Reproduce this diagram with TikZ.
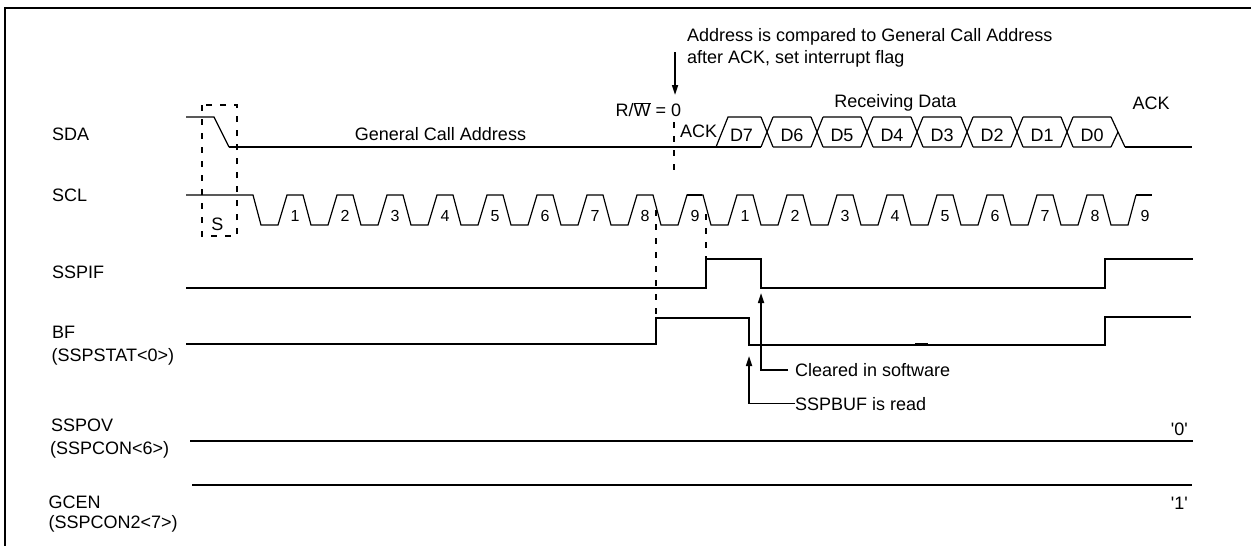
\documentclass[tikz,border=0pt]{standalone}
\usepackage{fontspec}
\setmainfont{Liberation Sans}
\usetikzlibrary{arrows.meta}
\newcommand\fsz{\fontsize{18}{21}\selectfont}
\newcommand\fsd{\fontsize{16}{19}\selectfont}
\begin{document}
\begin{tikzpicture}[x=1pt,y=-1pt,
  sig/.style={line width=2pt},
  fine/.style={line width=1.2pt},
  dsh/.style={line width=2pt,dash pattern=on 6pt off 8pt},
  lbl/.style={inner sep=0pt,font=\fsz},
  dig/.style={inner sep=0pt,font=\fsd,anchor=base},
  arr/.style={-{Triangle[length=10pt,width=6pt]},line width=1.6pt},
  frm/.style={line width=2.2pt}]
\useasboundingbox (0,0) rectangle (1251,546);

% frame
\draw[frm] (5,546) -- (5,8) -- (1251,8);

% signal names
\node[lbl,anchor=base west] (nSDA) at (52,140) {SDA};
\node[lbl,anchor=base west] (nSCL) at (52,201.5) {SCL};
\node[lbl,anchor=base west] (nSSPIF) at (52,278.3) {SSPIF};
\node[lbl,anchor=base west] (nBF) at (52,338.5) {BF};
\node[lbl,anchor=base west] (nBF2) at (51.5,361) {(SSPSTAT<0>)};
\node[lbl,anchor=base west] (nOV) at (51,431) {SSPOV};
\node[lbl,anchor=base west] (nOV2) at (50,454) {(SSPCON<6>)};
\node[lbl,anchor=base west] (nGC) at (48.5,508.3) {GCEN};
\node[lbl,anchor=base west] (nGC2) at (48.5,528) {(SSPCON2<7>)};

% SDA
\draw[fine] (186,117) -- (214,117) -- (229,147);
\draw[sig] (229,147) -- (716,147);
\draw[fine] (716,147) -- (728,117) -- (761,117);
\draw[fine] (716,147) -- (761,147);
\foreach \c in {767,817,...,1067} {
  \draw[fine] (\c-6,117) -- (\c+6,147) (\c-6,147) -- (\c+6,117)
              (\c+6,117) -- (\c+44,117) (\c+6,147) -- (\c+44,147);
}
\draw[fine] (1111,117) -- (1125,147) (1111,147) -- (1118,132);
\draw[sig] (1125,147) -- (1192,147);
\foreach \n/\x in {D7/741.5,D6/792,D5/842,D4/892,D3/942,D2/992,D1/1042,D0/1092}
  \node[lbl,anchor=base] (lab\n) at (\x,141.5) {\n};

\node[lbl,anchor=base] (gca) at (440.5,140) {General Call Address};
\node[lbl,anchor=base] (rw) at (648.5,116.5) {R/$\overline{\hbox{W}}$ = 0};
\node[lbl,anchor=base west] (ack1) at (680,137.5) {ACK};
\node[lbl,anchor=base] (rd) at (895.5,107.3) {Receiving Data};
\node[lbl,anchor=base] (ack2) at (1151,109) {ACK};

% annotation on top
\node[lbl,anchor=base west] (ann1) at (687,41) {Address is compared to General Call Address};
\node[lbl,anchor=base west] (ann2) at (687,63) {after ACK, set interrupt flag};
\coordinate (annTop) at (675,52);
\coordinate (rwTip) at (675,95);
\draw[arr] (annTop) -- (rwTip);

% SCL
\draw[fine] (186,195) -- (253,195) -- (261,225) -- (278,225)
  \foreach \i in {0,...,16} { -- ({278+50*\i},225) -- ({287+50*\i},195) -- ({303+50*\i},195) -- ({311+50*\i},225) -- ({328+50*\i},225) }
  -- (1128,225) -- (1136,195);
\draw[sig] (1136,195) -- (1152,195);
\draw[sig] (687,195) -- (702,195);
\foreach \d [count=\i from 0] in {1,2,3,4,5,6,7,8,9,1,2,3,4,5,6,7,8,9}
  \node[dig] (scl\i) at ({295+50*\i},221) {\d};

% start condition box
\draw[dsh] (202,105) rectangle (237,236);
\node[lbl,anchor=base] (s) at (217.5,230) {S};

% dashed markers
\draw[dsh] (674,122) -- (674,176);
\draw[dsh] (656,210) -- (656,344);
\draw[dsh] (706,214) -- (706,258);

% SSPIF
\draw[sig] (186,288) -- (706,288) -- (706,258.5) -- (761,258.5) -- (761,288) -- (1105,288) -- (1105,259) -- (1193,259);
% BF
\draw[sig] (186,344) -- (656,344) -- (656,318) -- (749,318) -- (749,345) -- (1105,345) -- (1105,317) -- (1191,317);
\draw[line width=2.6pt] (915,343.8) -- (928,343.8);
% SSPOV, GCEN
\draw[sig] (190,441) -- (1193,441);
\draw[sig] (192,485) -- (1192,485);
\node[lbl,anchor=base east] (z0) at (1188,435) {\textquotesingle 0\textquotesingle};
\node[lbl,anchor=base east] (z1) at (1188,509) {\textquotesingle 1\textquotesingle};

% callouts
\node[lbl,anchor=base west] (clr) at (795,376.5) {Cleared in software};
\node[lbl,anchor=base west] (sbr) at (795,410) {SSPBUF is read};
\coordinate (clrTip) at (761,293);
\coordinate (sbrTip) at (749,356);
\draw[arr] ([xshift=-7pt]clr.west) -| (clrTip);
\draw[arr] (sbr.west) -| (sbrTip);
\end{tikzpicture}
\end{document}
